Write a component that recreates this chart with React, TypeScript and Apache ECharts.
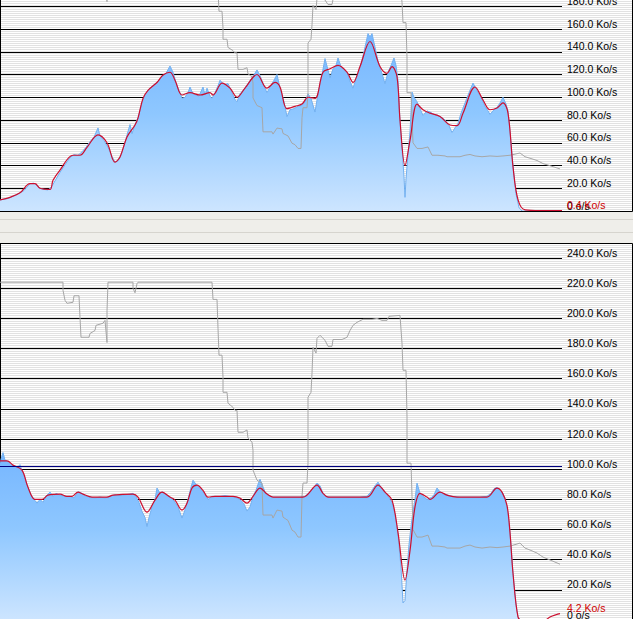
import React, { useEffect, useRef } from "react";
import * as echarts from "echarts";

// time (sample units across the window) , value (Ko/s)
const topBlue: [number, number][] = [
  [0, 9.7], [8, 11], [16, 14], [24, 18], [30, 24], [34, 24.5], [40, 20], [44, 19], [48, 18.5], [52, 22], [56, 28], [60, 34],
  [66, 42], [70, 47], [74, 49.5], [78, 49], [82, 52], [86, 56], [90, 61], [94, 65], [98, 73], [100, 66], [104, 62], [108, 56],
  [112, 48], [115, 43], [118, 44], [121, 49], [125, 60], [128, 70], [130, 76], [132, 68], [135, 76], [138, 82], [141, 92],
  [144, 100], [147, 105], [150, 108], [154, 111], [158, 114], [162, 118], [166, 121], [170, 127.5], [173, 122], [176, 113],
  [179, 106], [182, 99], [185, 100], [188, 104], [190, 109], [193, 103], [196, 102], [199, 101], [203, 109], [205, 102],
  [207, 108], [210, 101], [212, 99], [215, 104], [218, 110], [220, 115], [224, 111], [228, 112], [232, 104], [235, 98],
  [237, 96], [240, 103], [244, 107], [248, 112], [252, 117], [257, 124], [260, 119], [264, 110], [267, 104], [270, 109],
  [274, 115], [277, 120], [280, 108], [284, 96], [287, 83], [290, 89], [294, 90], [298, 92], [302, 93], [305, 96], [308, 103],
  [311, 99], [315, 87], [318, 103], [322, 120], [325, 134], [328, 124], [330, 117], [333, 125], [336, 128], [338, 134.5],
  [341, 127], [344, 124], [347, 122], [350, 114], [353, 108], [356, 116], [360, 126], [364, 140], [368, 156], [370, 153],
  [372, 156], [375, 144], [378, 132], [380, 126], [383, 118], [385, 112], [388, 122], [391, 128], [394, 134.5], [396, 128],
  [398, 115], [400, 78], [402, 55], [404, 30], [405, 12], [406, 28], [408, 50], [410, 70], [412, 104.6], [414, 100], [417, 96],
  [420, 90], [423, 84], [427, 88], [430, 87], [434, 85], [438, 84], [442, 82], [445, 80], [449, 75], [452, 69], [455, 73],
  [458, 77], [461, 86], [465, 95], [469, 104], [473, 112.5], [477, 106], [481, 100], [485, 92], [488, 88], [490, 85], [494, 89],
  [497, 91], [500, 95], [503, 100], [506, 94], [508, 88], [510, 70], [513, 40], [516, 15], [519, 3], [522, 0], [562, 0],
];

const topRed: [number, number][] = [
  [0, 9.7], [10, 12], [20, 16], [30, 24], [35, 24], [40, 20], [50, 19], [53, 27], [60, 36], [73, 49], [80, 49], [87, 56],
  [98, 67], [107, 60], [115, 43], [120, 47.5], [127, 65], [135, 75.6], [138, 81.7], [143, 99], [148, 106], [157, 113],
  [163, 119.5], [170, 122], [175, 115], [182, 102], [190, 104], [200, 102], [210, 104], [213, 102], [222, 112.5], [230, 108],
  [237, 100], [245, 108], [257, 120], [267, 108], [275, 113], [280, 109], [287, 90], [295, 92], [302, 94], [308, 100],
  [315, 99], [323, 122], [330, 125], [338, 128], [347, 122], [353, 113], [360, 127], [370, 149], [380, 127], [387, 121],
  [392, 127], [397, 118], [400, 80], [405, 40], [410, 62], [417, 94], [423, 89], [430, 86], [440, 83], [450, 75.6], [457, 75],
  [463, 86], [475, 109], [483, 97.6], [490, 89], [497, 90.5], [503, 95], [508, 86], [513, 39], [518, 10], [525, 1], [540, 0.4],
  [562, 0.4],
];

const bottomBlue: [number, number][] = [
  [0, 104], [2, 109], [3, 111], [5, 106], [8, 105], [11, 103], [14, 102], [17, 101], [20, 103], [22, 99], [25, 94], [28, 88],
  [31, 83], [34, 80], [37, 77.5], [40, 80], [43, 78], [46, 82], [50, 84.8], [53, 82], [56, 84], [59, 83], [62, 82.5], [66, 82],
  [70, 82], [74, 81], [78, 85], [82, 84], [86, 82], [90, 81.5], [95, 81], [100, 81.5], [105, 81], [110, 82], [115, 83],
  [120, 82.5], [125, 83], [130, 83.5], [133, 84], [136, 82], [139, 78], [142, 72], [145, 68], [147, 62], [149, 68], [152, 75],
  [155, 80], [157, 87.5], [160, 84], [163, 85], [166, 83], [170, 81.5], [174, 79], [178, 75], [182, 67.6], [185, 73], [188, 80],
  [191, 88], [193, 92.7], [196, 90], [199, 88], [202, 86], [205, 83], [208, 80], [212, 82], [216, 82], [220, 82], [225, 82.5],
  [230, 82], [235, 81.5], [240, 80], [244, 77], [247, 72.2], [250, 75], [253, 82], [256, 86], [258, 90], [260, 93.4], [262, 90],
  [265, 85], [268, 83], [272, 81.5], [280, 81.5], [290, 81.5], [300, 81.5], [305, 82], [310, 85], [314, 88], [317, 90.8],
  [320, 89], [323, 84], [326, 82], [330, 81.5], [340, 81.5], [350, 81.5], [360, 81.5], [367, 82], [371, 85], [375, 89],
  [378, 91.4], [381, 88], [385, 85], [389, 81], [392, 78], [395, 70], [398, 57], [401, 35], [403, 11.3], [405, 13], [407, 33],
  [409, 50], [411, 62], [413, 72], [415, 80], [417, 90.8], [420, 84], [423, 82], [427, 80], [431, 81], [434, 83], [437, 87.5],
  [440, 85], [443, 84], [447, 83], [452, 82], [460, 81.5], [470, 81.5], [480, 81.5], [487, 82], [491, 84], [494, 87], [497, 88],
  [500, 86], [503, 84], [506, 78], [508, 70], [510, 58], [513, 31], [516, 10], [518, 2], [520, 0], [562, 0],
];

const bottomRed: [number, number][] = [
  [0, 105.5], [7, 105.5], [13, 102.7], [22, 99.4], [28, 88], [35, 80], [42, 80], [48, 82.8], [60, 83.5], [67, 82], [72, 82],
  [78, 84.8], [83, 83.5], [92, 81.5], [107, 81.5], [113, 82.8], [133, 83.5], [138, 81.5], [147, 71.5], [155, 79.5], [162, 84.8],
  [170, 81.5], [175, 79.5], [182, 72.9], [187, 77.5], [192, 87.5], [197, 89.4], [203, 86], [208, 81.5], [215, 82], [233, 82],
  [240, 80.8], [247, 77.5], [253, 82], [260, 87.5], [267, 83.5], [273, 81.5], [303, 81.5], [317, 89.4], [323, 84], [328, 81.5],
  [367, 81.5], [378, 89.4], [385, 84.8], [392, 79.5], [398, 58], [405, 26.5], [410, 46], [415, 75], [420, 84], [427, 81.5],
  [430, 80], [440, 84.8], [447, 82.8], [457, 81.5], [487, 81.5], [497, 87.5], [502, 84.8], [507, 76], [510, 58], [513, 31],
  [518, 2], [522, 0], [545, 0], [550, 2], [556, 3.5], [560, 4.2],
];

const grayLine: [number, number][] = [
  [0, 224], [63, 224], [63, 218.6], [65, 212], [67, 210], [73, 210.7], [74, 215], [79, 215], [80, 200.7], [81, 187.5],
  [89, 187.5], [90, 190], [95, 192], [96, 195.4], [103, 196.8], [105, 198.7], [107, 184], [107, 205], [108, 224], [133, 224],
  [133, 220], [135, 217], [137, 223], [138, 224], [212, 224], [213, 212.6], [217, 212.6], [218, 193.5], [219, 175.6],
  [222, 175.6], [223, 161], [223, 151], [227, 151], [228, 143.8], [233, 141], [235, 139], [237, 139], [238, 124.5], [243, 124.5],
  [247, 126], [248, 120.6], [252, 118], [253, 112.6], [253, 99.4], [257, 92.7], [262, 90.8], [263, 69.6], [272, 69.6],
  [273, 67.6], [277, 72.9], [282, 72.2], [283, 68.2], [288, 66], [292, 59.6], [295, 58.3], [298, 55], [301, 55], [302, 82],
  [303, 90.8], [307, 90.8], [308, 104], [308, 147.7], [311, 151], [312, 163.6], [313, 180.9], [316, 177], [317, 186.8],
  [320, 188.8], [325, 185.5], [328, 181.5], [332, 181.5], [333, 186], [342, 186], [347, 187.5], [350, 192], [353, 195.4],
  [357, 197.4], [363, 199.4], [372, 199.4], [377, 200], [382, 198.7], [387, 198.7], [389, 201.4], [400, 202], [402, 183.5],
  [403, 165.6], [406, 165.6], [407, 134.5], [407, 104], [411, 104], [412, 82], [413, 60], [417, 55], [422, 55], [428, 56.3],
  [432, 49], [438, 49], [445, 48.4], [447, 47.7], [460, 47.7], [465, 49], [470, 49.7], [475, 48.4], [482, 47.7], [490, 48.4],
  [497, 48], [503, 48.4], [510, 49], [520, 51], [525, 47.7], [530, 46.4], [537, 44.4], [543, 41.7], [550, 39.8], [560, 37],
];

const limitLine = 102;
const tickStep = 20;
const topMax = 200;
const bottomMax = 250;
const timeSpan = 562;

const FONT = '"Liberation Sans", Arial, sans-serif';

const fmt = (v: number) => (v === 0 ? "0 o/s" : `${v.toFixed(1)} Ko/s`);

const areaGradient = () =>
  new echarts.graphic.LinearGradient(0, 0, 0, 1, [
    { offset: 0, color: "#76b6ff" },
    { offset: 0.45, color: "#8ec7ff" },
    { offset: 1, color: "#cde5ff" },
  ]);

const makeY = (gridIndex: number, max: number) => ({
  type: "value",
  gridIndex,
  position: "right",
  min: 0,
  max,
  interval: tickStep,
  axisLine: { show: true, lineStyle: { color: "#000", width: 1 } },
  axisTick: { show: false },
  splitLine: { show: true, lineStyle: { color: "#000", width: 1 } },
  axisLabel: {
    formatter: (v: number) => (v % tickStep === 0 ? fmt(v) : ""),
    color: "#000",
    fontSize: 10.5,
    fontFamily: FONT,
    margin: 5,
    verticalAlign: "bottom",
    lineHeight: 11,
  },
});

const makeX = (gridIndex: number) => ({
  type: "value",
  gridIndex,
  min: 0,
  max: timeSpan,
  show: false,
  splitLine: { show: false },
});

export default function App() {
  const ref = useRef<HTMLDivElement>(null);
  useEffect(() => {
    if (!ref.current) return;
    document.body.style.margin = "0";
    const chart = echarts.init(ref.current, undefined, { renderer: "svg" });
    const areaSeries = (idx: number, data: [number, number][], extra: any = {}) => ({
      type: "line",
      xAxisIndex: idx,
      yAxisIndex: idx,
      data,
      symbol: "none",
      lineStyle: { color: "#72b0f0", width: 1 },
      areaStyle: { color: areaGradient(), opacity: 1 },
      clip: true,
      z: 2,
      ...extra,
    });
    const grayS = (idx: number) => ({
      type: "line",
      xAxisIndex: idx,
      yAxisIndex: idx,
      data: grayLine,
      symbol: "none",
      lineStyle: { color: "#a6a6a6", width: 1 },
      clip: true,
      z: 3,
    });
    const redS = (idx: number, data: [number, number][]) => ({
      type: "line",
      xAxisIndex: idx,
      yAxisIndex: idx,
      data,
      symbol: "none",
      smooth: 0.35,
      lineStyle: { color: "#cc0f2f", width: 1.2 },
      clip: true,
      z: 4,
    });
    chart.setOption({
      animation: false,
      backgroundColor: "transparent",
      grid: [
        { left: 0, top: -16.5, width: 562, height: 227.5, show: false, outerBoundsMode: "none" },
        { left: 0, top: 243, width: 562, height: 377, show: false, outerBoundsMode: "none" },
      ],
      xAxis: [makeX(0), makeX(1)],
      yAxis: [makeY(0, topMax), makeY(1, bottomMax)],
      tooltip: { show: false },
      series: [
        areaSeries(0, topBlue),
        grayS(0),
        redS(0, topRed),
        areaSeries(1, bottomBlue, {
          markLine: {
            silent: true,
            symbol: "none",
            label: { show: false },
            lineStyle: { color: "#000080", width: 1, type: "solid" },
            data: [{ yAxis: limitLine }],
          },
        }),
        grayS(1),
        redS(1, bottomRed),
      ],
    });

    const topLast = topRed[topRed.length - 1][1];
    const botLast = bottomRed[bottomRed.length - 1][1];
    const yTop = chart.convertToPixel({ yAxisIndex: 0 }, topLast) as number;
    const yBot = chart.convertToPixel({ yAxisIndex: 1 }, botLast) as number;

    chart.setOption({
      graphic: [
        {
          type: "rect",
          shape: { x: 0, y: 212, width: 633, height: 31 },
          style: { fill: "#efeeea" },
          silent: true,
          z: 10,
        },
        { type: "line", shape: { x1: 0, y1: 219.5, x2: 633, y2: 219.5 }, style: { stroke: "#d6d4ce", lineWidth: 1 }, z: 11 },
        { type: "line", shape: { x1: 0, y1: 232.5, x2: 633, y2: 232.5 }, style: { stroke: "#d6d4ce", lineWidth: 1 }, z: 11 },
        {
          type: "polyline",
          shape: { points: [[0, 211.5], [632.5, 211.5], [632.5, -2]] },
          style: { stroke: "#000", lineWidth: 1, fill: "none" },
          z: 12,
        },
        {
          type: "polyline",
          shape: { points: [[0, 243.5], [632.5, 243.5], [632.5, 622]] },
          style: { stroke: "#000", lineWidth: 1, fill: "none" },
          z: 12,
        },
        {
          type: "text",
          x: 567,
          y: yTop,
          style: {
            text: fmt(topLast),
            fill: "#d00000",
            fontSize: 10.5,
            fontFamily: FONT,
            verticalAlign: "bottom",
            align: "left",
            lineHeight: 11,
          },
          z: 20,
        },
        {
          type: "text",
          x: 567,
          y: yBot,
          style: {
            text: fmt(botLast),
            fill: "#d00000",
            fontSize: 10.5,
            fontFamily: FONT,
            verticalAlign: "bottom",
            align: "left",
            lineHeight: 11,
          },
          z: 20,
        },
      ],
    });
    return () => chart.dispose();
  }, []);
  return (
    <div style={{ position: "fixed", left: 0, top: 0, width: 633, height: 619 }}>
      <div
        ref={ref}
        style={{
          width: 633,
          height: 619,
          background:
            "repeating-linear-gradient(180deg, #ffffff 0px, #ffffff 1px, #e2e2e2 1px, #e2e2e2 2px)",
        }}
      />
    </div>
  );
}
